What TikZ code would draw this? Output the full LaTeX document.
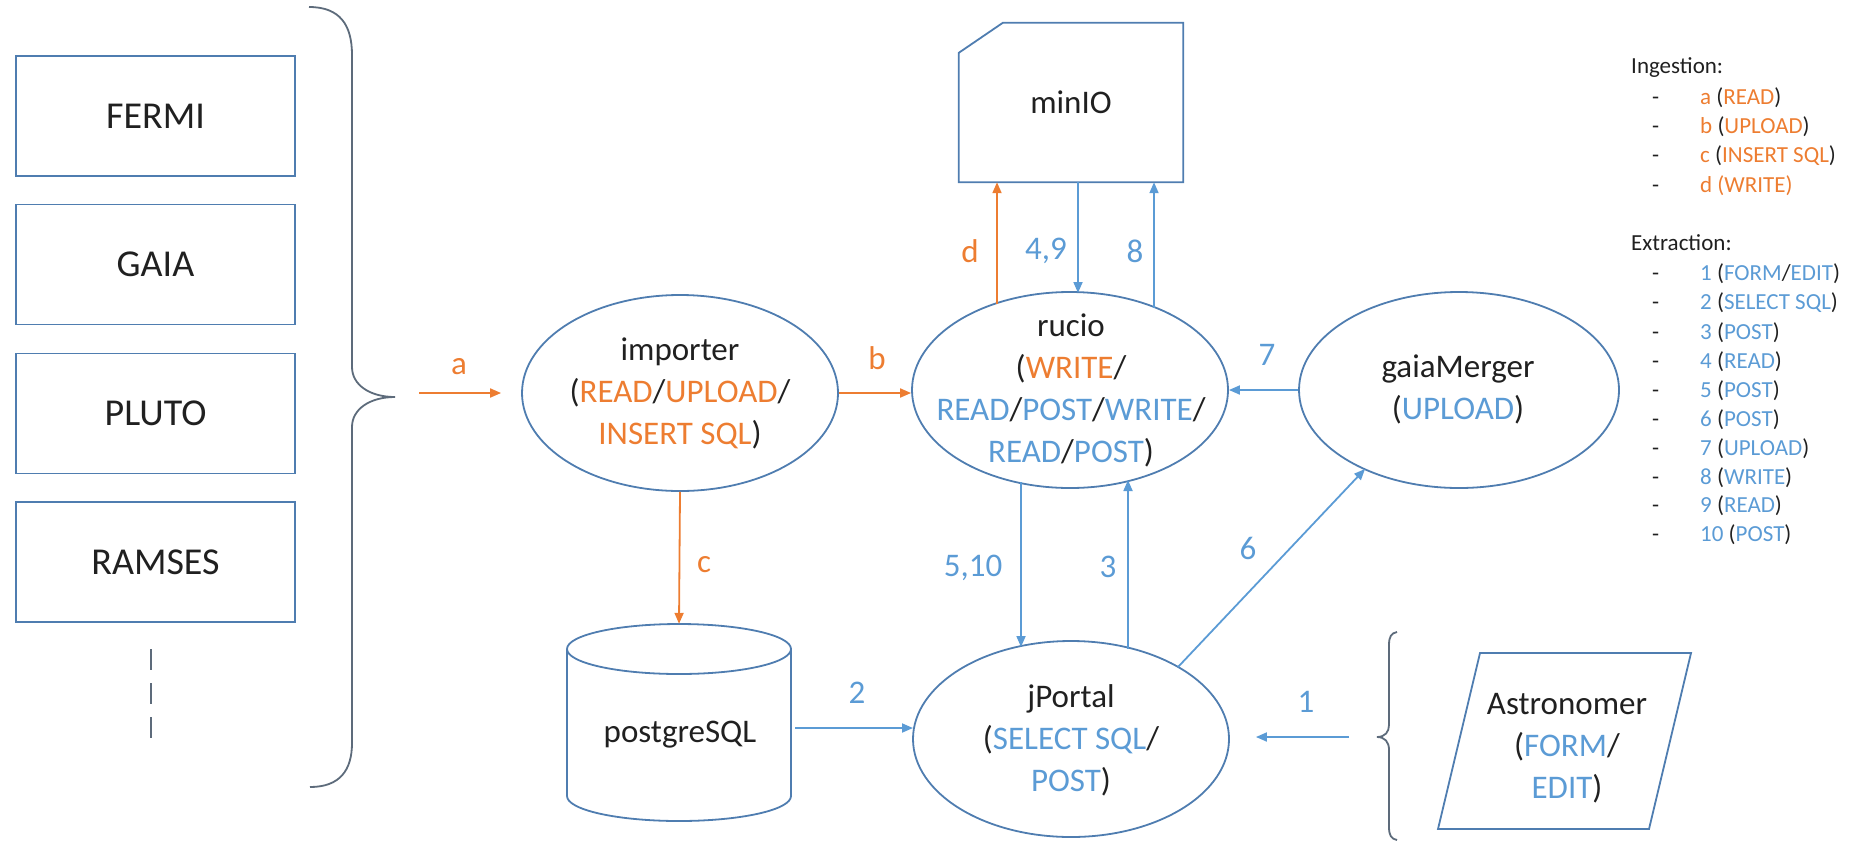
\documentclass[tikz,border=0pt]{standalone}
\usepackage{fontspec}
\setmainfont{Carlito}
\usetikzlibrary{arrows.meta,calc,shapes.geometric}
\definecolor{org}{HTML}{ED7D31}
\definecolor{blu}{HTML}{5B9BD5}
\definecolor{edgec}{HTML}{4F7DB0}
\definecolor{ink}{HTML}{202020}
\definecolor{bracec}{HTML}{5D6B7B}
\newcommand\txor[1]{\textcolor{org}{#1}}
\newcommand\txbl[1]{\textcolor{blu}{#1}}
\begin{document}
\begin{tikzpicture}[x=1pt,y=-1pt,
  every node/.style={text=ink},
  mainfont/.style={font=\fontsize{33}{42}\selectfont},
  shp/.style={draw=edgec, line width=1.8pt},
  ell/.style={ellipse, draw=edgec, line width=1.8pt, minimum width=316pt, minimum height=196pt, inner sep=0pt},
  srcbox/.style={rectangle, draw=edgec, line width=1.8pt, minimum width=279pt, minimum height=120pt, inner sep=0pt, font=\fontsize{38}{46}\selectfont},
  txt/.style={align=center, mainfont, inner sep=0pt},
  lab/.style={mainfont, inner sep=0pt},
  arr/.style={line width=1.8pt, -{Triangle[length=11pt,width=9pt]}},
  oarr/.style={arr, draw=org},
  barr/.style={arr, draw=blu},
  bracel/.style={draw=bracec, line width=1.8pt},
  leg/.style={anchor=base west, inner sep=0pt, font=\fontsize{23}{29}\selectfont},
]
\useasboundingbox (0,0) rectangle (1867,844);

% source boxes
\node[srcbox] (fermi) at (155.5,116) {FERMI};
\node[srcbox] (gaiabox) at (155.5,264.5) {GAIA};
\node[srcbox] (pluto) at (155.5,413.5) {PLUTO};
\node[srcbox] (ramses) at (155.5,562) {RAMSES};
\draw[bracel, dash pattern=on 21pt off 13pt] (151,649) -- (151,739);

% big brace
\draw[bracel] (309,7) .. controls (340,7) and (352,25) .. (352,55)
  -- (352,367) .. controls (352,385) and (370,397) .. (395,397)
  .. controls (370,397) and (352,409) .. (352,427)
  -- (352,743) .. controls (352,770) and (340,787) .. (310,787);

% main nodes
\node[ell] (importer) at (680,393) {};
\node[txt] (importerT) at (680,393) {importer\\(\txor{READ}/\txor{UPLOAD}/\\\txor{INSERT SQL})};

\node[ell] (rucio) at (1070,390) {};
\node[txt] (rucioT) at (1071,390) {rucio\\(\txor{WRITE}/\\\txbl{READ}/\txbl{POST}/\txbl{WRITE}/\\\txbl{READ}/\txbl{POST})};

\node[ell, minimum width=320pt] (gaia) at (1459,390) {};
\node[txt] (gaiaT) at (1458,389) {gaiaMerger\\(\txbl{UPLOAD})};

\node[ell] (jPortal) at (1071,739) {};
\node[txt] (jPortalT) at (1071,740) {jPortal\\(\txbl{SELECT SQL}/\\\txbl{POST})};

% minIO
\node[minimum width=224pt, minimum height=159pt, inner sep=0pt, mainfont] (minIO) at (1071,102.5) {minIO};
\draw[shp] ($(minIO.north west)+(44,0)$) -- (minIO.north east) -- (minIO.south east) -- (minIO.south west) -- ($(minIO.north west)+(0,30)$) -- cycle;

% postgreSQL cylinder
\node[minimum width=224pt, minimum height=197pt, inner sep=0pt] (pg) at (679,722.5) {};
\draw[shp] (567,649) -- (567,796) .. controls (567,809.8) and (617.1,821) .. (679,821) .. controls (740.9,821) and (791,809.8) .. (791,796) -- (791,649);
\draw[shp] (679,649) ellipse [x radius=112, y radius=25];
\node[txt] (pgT) at (680,735) {postgreSQL};

% Astronomer
\node[minimum width=253pt, minimum height=176pt, inner sep=0pt] (astro) at (1564.5,741) {};
\draw[shp] (1480,653) -- (1691,653) -- (1649,829) -- (1438,829) -- cycle;
\node[txt] (astroT) at (1567,748) {Astronomer\\(\txbl{FORM}/\\\txbl{EDIT})};

% small brace
\draw[bracel] (1397,632) .. controls (1391,633) and (1389,637) .. (1389,645)
  -- (1389,725) .. controls (1389,732) and (1385,737) .. (1377,737)
  .. controls (1385,737) and (1389,742) .. (1389,750)
  -- (1389,827) .. controls (1389,835) and (1391,839) .. (1397,840);

% connectors
\coordinate (aS) at (419,393);
\draw[oarr] (aS) -- ($(importer.west)+(-20,0)$);
\node[lab, text=org] (la) at (459,367) {a};

\draw[oarr] (importer.east) -- (importer.east -| rucio.west);
\node[lab, text=org] (lb) at (877,358) {b};

\draw[oarr] (importer.south) -- (pg.north);
\node[lab, text=org] (lc) at (704,565) {c};

\coordinate (dS) at ($(rucio.center)+(-73,-86)$);
\draw[oarr] (dS) -- (dS |- minIO.south);
\node[lab, text=org] (ld) at (970,251) {d};

\coordinate (fnE) at ($(rucio.center)+(8,-97)$);
\draw[barr] (fnE |- minIO.south) -- (fnE);
\node[lab, text=blu] (l49) at (1046,251) {4,9};

\coordinate (eS) at ($(rucio.center)+(84,-82)$);
\draw[barr] (eS) -- (eS |- minIO.south);
\node[lab, text=blu] (l8) at (1135,251) {8};

\draw[barr] (gaia.west) -- (rucio.east);
\node[lab, text=blu] (l7) at (1267,355) {7};

\coordinate (ftS) at ($(rucio.center)+(-49,92)$);
\coordinate (ftE) at ($(jPortal.center)+(-50,-92)$);
\draw[barr] (ftS) -- (ftE);
\node[lab, text=blu] (l510) at (973,568) {5,10};

\coordinate (thS) at ($(jPortal.center)+(57,-90.5)$);
\coordinate (thE) at ($(rucio.center)+(58,90)$);
\draw[barr] (thS) -- (thE);
\node[lab, text=blu] (l3) at (1108,567) {3};

\coordinate (sxS) at ($(jPortal.center)+(107,-72)$);
\coordinate (sxE) at ($(gaia.center)+(-94,79)$);
\draw[barr] (sxS) -- (sxE);
\node[lab, text=blu] (l6) at (1248,548) {6};

\draw[barr] ($(pg.east)+(4,5.5)$) -- ($(jPortal.center)+(-158,-11)$);
\node[lab, text=blu] (l2) at (857,693) {2};

\coordinate (oneS) at (1349,737);
\draw[barr] (oneS) -- ($(jPortal.east)+(26,-2)$);
\node[lab, text=blu] (l1) at (1306,702) {1};

% legend
\node[leg] (lgI) at (1631,73.5) {Ingestion:};
\foreach \yy [count=\i] in {104.5,133.5,162.5,192.5,280.5,309.5,339.5,368.5,397.5,426.5,455.5,484.5,512.5,541.5}
  \node[leg] (dash\i) at (1652,\yy) {-};
\node[leg] (lga) at (1700,104.5) {\txor{a} (\txor{READ})};
\node[leg] (lgb) at (1700,133.5) {\txor{b} (\txor{UPLOAD})};
\node[leg] (lgc) at (1700,162.5) {\txor{c} (\txor{INSERT SQL})};
\node[leg] (lgd) at (1700,192.5) {\txor{d (WRITE)}};
\node[leg] (lgE) at (1631,250.5) {Extraction:};
\node[leg] (lg1) at (1700,280.5) {\txbl{1} (\txbl{FORM}/\txbl{EDIT})};
\node[leg] (lg2) at (1700,309.5) {\txbl{2} (\txbl{SELECT SQL})};
\node[leg] (lg3) at (1700,339.5) {\txbl{3} (\txbl{POST})};
\node[leg] (lg4) at (1700,368.5) {\txbl{4} (\txbl{READ})};
\node[leg] (lg5) at (1700,397.5) {\txbl{5} (\txbl{POST})};
\node[leg] (lg6) at (1700,426.5) {\txbl{6} (\txbl{POST})};
\node[leg] (lg7) at (1700,455.5) {\txbl{7} (\txbl{UPLOAD})};
\node[leg] (lg8) at (1700,484.5) {\txbl{8} (\txbl{WRITE})};
\node[leg] (lg9) at (1700,512.5) {\txbl{9} (\txbl{READ})};
\node[leg] (lg10) at (1700,541.5) {\txbl{10} (\txbl{POST})};
\end{tikzpicture}
\end{document}
